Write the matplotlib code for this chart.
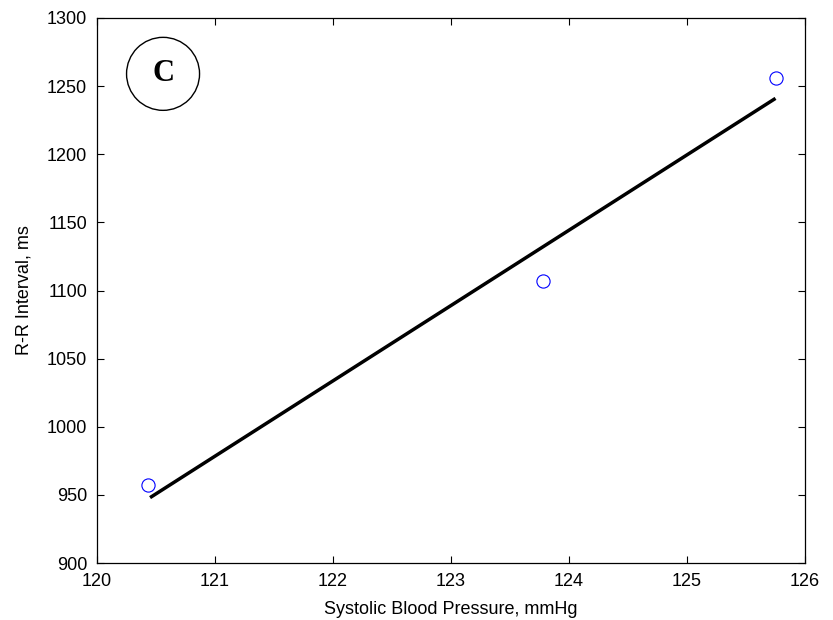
import matplotlib.pyplot as plt
import numpy as np

# measured points
sbp = [120.43, 123.78, 125.75]
rr = [957, 1107, 1256]

# regression line endpoints
fit_x = [120.45, 125.75]
fit_y = [948, 1241]

xticks = [120, 121, 122, 123, 124, 125, 126]
yticks = [900, 950, 1000, 1050, 1100, 1150, 1200, 1250, 1300]

plt.rcParams["font.family"] = ["Liberation Sans", "DejaVu Sans"]

fig = plt.figure(figsize=(8.33, 6.2), dpi=100)
ax = fig.add_axes([0.1164, 0.0919, 0.85, 0.8791])

ax.plot(fit_x, fit_y, color="black", linewidth=2.5, solid_capstyle="butt")
ax.plot(sbp, rr, "o", markerfacecolor="none", markeredgecolor="blue",
        markersize=9.5, markeredgewidth=0.8)

ax.set_xlim(120, 126)
ax.set_ylim(900, 1300)
ax.set_xticks(xticks)
ax.set_yticks(yticks)
ax.tick_params(direction="in", top=True, right=True, length=5, width=0.8,
               labelsize=13, pad=7)
for s in ax.spines.values():
    s.set_linewidth(0.9)

ax.set_xlabel("Systolic Blood Pressure, mmHg", fontsize=13, labelpad=8)
ax.set_ylabel("R-R Interval, ms", fontsize=13, labelpad=10)

# panel label
ax.text(120.56, 1259, "C", family="Liberation Serif", fontsize=22,
        fontweight="bold", ha="center", va="center",
        bbox=dict(boxstyle="circle,pad=0.72", facecolor="white",
                  edgecolor="black", linewidth=1.0))

fig.savefig("out.png", dpi=100)
